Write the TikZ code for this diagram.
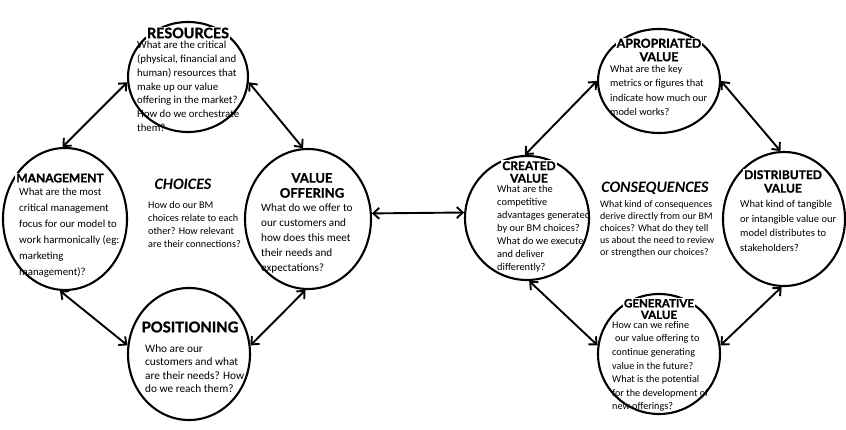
\documentclass[tikz,border=0pt]{standalone}
\usepackage{fontspec}
\setmainfont{Carlito}
\newfontfamily\titlefont{Lato}[BoldFeatures={FakeBold=1.3}]
\usetikzlibrary{shapes.geometric,arrows.meta}
\newcommand\fsz[2]{\fontsize{#1}{#2}\selectfont}
\begin{document}
\begin{tikzpicture}[x=1pt,y=-1pt,
  blob/.style={ellipse,draw,line width=2.1pt,inner sep=0pt},
  conn/.style={line width=1.9pt,{Straight Barb[length=6pt,width=11pt]}-{Straight Barb[length=6pt,width=11pt]}},
  ttl/.style={inner sep=1pt,fill=white,align=center},
  body/.style={align=left,anchor=north west,inner sep=0pt},
  big/.style={font=\bfseries\itshape\fsz{16}{18},inner sep=0pt},
]
\useasboundingbox (0,0) rectangle (846,430);
\fill[white] (0,0) rectangle (846,430);

% circles
\node[blob,minimum width=120pt,minimum height=110pt] (res) at (188,77) {};
\node[blob,minimum width=124pt,minimum height=142pt] (mgmt) at (65,219) {};
\node[blob,minimum width=126pt,minimum height=140pt] (vo) at (308,219) {};
\node[blob,minimum width=122pt,minimum height=132pt] (pos) at (189,354) {};
\node[blob,minimum width=124pt,minimum height=124pt] (cv) at (527,218) {};
\node[blob,minimum width=122pt,minimum height=104pt] (ap) at (659,81) {};
\node[blob,minimum width=122pt,minimum height=134pt] (dv) at (784,219) {};
\node[blob,minimum width=122pt,minimum height=120pt] (gv) at (659,354) {};

% connectors
\draw[conn] (res.185) -- (mgmt.92);
\draw[conn] (res.355) -- (vo.94);
\draw[conn] (mgmt.266) -- (pos.172);
\draw[conn] (vo.268) -- (pos.8);
\draw[conn] (vo.5) -- (cv.175);
\draw[conn] (ap.180) -- (cv.92);
\draw[conn] (ap.0) -- (dv.93);
\draw[conn] (cv.272) -- (gv.172);
\draw[conn] (dv.268) -- (gv.8);

% left group texts
\node[ttl,font=\titlefont\bfseries\fsz{14.3}{16}] (resT) at (188,33) {RESOURCES};
\node[body,font=\fsz{10.8}{13.8}] (resB) at (137,41) {What are the critical\\(physical, financial and\\human) resources that\\make up our value\\offering in the market?\\How do we orchestrate\\them?};

\node[ttl,font=\titlefont\bfseries\fsz{12}{14}] (mgmtT) at (60,178) {MANAGEMENT};
\node[body,font=\fsz{10.8}{16}] (mgmtB) at (19,188) {What are the most\\critical management\\focus for our model to\\work harmonically (eg:\\marketing\\management)?};

\node[ttl,font=\titlefont\bfseries\fsz{13}{15}] (voT) at (312,185.5) {VALUE\\OFFERING};
\node[body,font=\fsz{11.2}{15}] (voB) at (261,204) {What do we offer to\\our customers and\\how does this meet\\their needs and\\expectations?};

\node[ttl,font=\titlefont\bfseries\fsz{14.8}{16}] (posT) at (190,327) {POSITIONING};
\node[body,font=\fsz{11.3}{13.5}] (posB) at (145,344) {Who are our\\customers and what\\are their needs? How\\do we reach them?};

\node[big] (choT) at (183,184) {CHOICES};
\node[body,font=\fsz{10.2}{13}] (choB) at (148,201.5) {How do our BM\\choices relate to each\\other? How relevant\\are their connections?};

% right group texts
\node[ttl,font=\titlefont\bfseries\fsz{12}{12.5}] (cvT) at (529,172) {CREATED\\VALUE};
\node[body,font=\fsz{10.4}{13}] (cvB) at (497,185) {What are the\\competitive\\advantages generated\\by our BM choices?\\What do we execute\\and deliver\\differently?};

\node[ttl,font=\titlefont\bfseries\fsz{12.3}{13.5}] (apT) at (659,50) {APROPRIATED\\VALUE};
\node[body,font=\fsz{10.4}{14.3}] (apB) at (610,65) {What are the key\\metrics or figures that\\indicate how much our\\model works?};

\node[ttl,font=\titlefont\bfseries\fsz{12}{13.5}] (dvT) at (783,181.5) {DISTRIBUTED\\VALUE};
\node[body,font=\fsz{10.5}{14.5}] (dvB) at (740,200.5) {What kind of tangible\\or intangible value our\\model distributes to\\stakeholders?};

\node[ttl,font=\titlefont\bfseries\fsz{11.5}{11.5}] (gvT) at (659,309) {GENERATIVE\\VALUE};
\node[body,font=\fsz{10.2}{13.6}] (gvB) at (612,321) {How can we refine\\\hspace*{3pt}our value offering to\\continue generating\\value in the future?\\What is the potential\\for the development of\\new offerings?};

\node[big] (conT) at (655,188) {CONSEQUENCES};
\node[body,font=\fsz{10}{12}] (conB) at (600,200.5) {What kind of consequences\\derive directly from our BM\\choices? What do they tell\\us about the need to review\\or strengthen our choices?};
\end{tikzpicture}
\end{document}
